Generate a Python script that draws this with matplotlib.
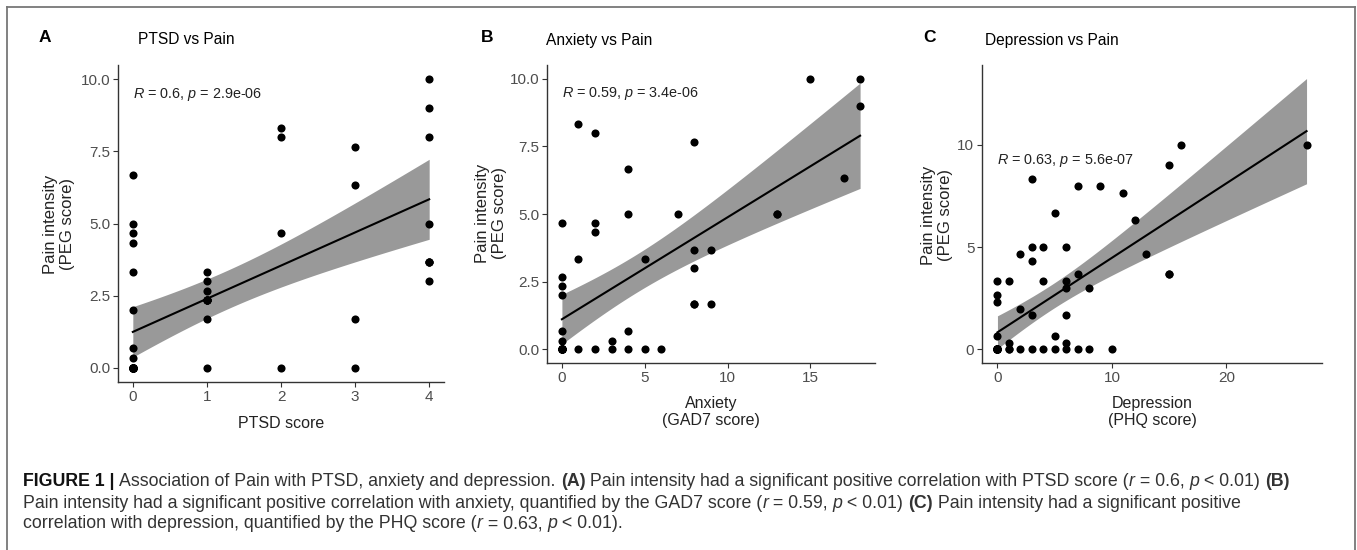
import numpy as np
import matplotlib
matplotlib.use("Agg")
import matplotlib.pyplot as plt
from matplotlib import font_manager
from matplotlib.lines import Line2D

# ------------------------------------------------------------------ data
# Panel A: PTSD score vs pain (visible points)
ptsd_x = [0, 0, 0, 0, 0, 0, 0, 0, 0,
          1, 1, 1, 1, 1, 1,
          2, 2, 2, 2,
          3, 3, 3, 3,
          4, 4, 4, 4, 4, 4]
ptsd_y = [6.67, 5.0, 4.67, 4.33, 3.33, 2.0, 0.67, 0.33, 0.0,
          3.33, 3.0, 2.67, 2.33, 1.67, 0.0,
          8.33, 8.0, 4.67, 0.0,
          7.67, 6.33, 1.67, 0.0,
          10.0, 9.0, 8.0, 5.0, 3.67, 3.0]
# overlapping (hidden) observations
ptsd_dup_x = [0] * 14 + [1] * 4 + [4] * 2
ptsd_dup_y = [0.0] * 14 + [2.33] * 4 + [3.67] * 2

# Panel B: anxiety (GAD7) vs pain
anx_x = [0, 0, 0, 0, 0, 0, 0, 1, 1, 1, 2, 2, 2, 2, 3, 3, 4, 4, 4, 4, 5, 5, 6, 7,
         8, 8, 8, 8, 9, 9, 13, 15, 17, 18, 18]
anx_y = [4.67, 2.67, 2.33, 2.0, 0.67, 0.33, 0.0, 8.33, 3.33, 0.0, 8.0, 4.67, 4.33, 0.0,
         0.33, 0.0, 6.67, 5.0, 0.67, 0.0, 3.33, 0.0, 0.0, 5.0,
         7.67, 3.67, 3.0, 1.67, 3.67, 1.67, 5.0, 10.0, 6.33, 10.0, 9.0]
anx_dup_x = [0] * 10 + [8, 13]
anx_dup_y = [0.0] * 10 + [1.67, 5.0]

# Panel C: depression (PHQ) vs pain
dep_x = [0, 0, 0, 0, 0, 1, 1, 1, 2, 2, 2, 3, 3, 3, 3, 3, 4, 4, 4, 5, 5, 5,
         6, 6, 6, 6, 6, 6, 7, 7, 7, 8, 8, 9, 10, 11, 12, 13, 15, 15, 16, 27]
dep_y = [3.33, 2.67, 2.33, 0.67, 0.0, 3.33, 0.33, 0.0, 4.67, 2.0, 0.0,
         8.33, 5.0, 4.33, 1.67, 0.0, 5.0, 3.33, 0.0, 6.67, 0.67, 0.0,
         5.0, 3.33, 3.0, 1.67, 0.33, 0.0, 8.0, 3.67, 0.0, 3.0, 0.0, 8.0, 0.0,
         7.67, 6.33, 4.67, 9.0, 3.67, 10.0, 10.0]
dep_dup_x = [0] * 13 + [1, 15]
dep_dup_y = [0.0] * 13 + [0.0, 3.67]

panel_letters = ["A", "B", "C"]
titles = ["PTSD vs Pain", "Anxiety vs Pain", "Depression vs Pain"]
xlabels = ["PTSD score", "Anxiety\n(GAD7 score)", "Depression\n(PHQ score)"]
ylabel = "Pain intensity\n(PEG score)"
cor_labels = [("0.6", "2.9e-06"), ("0.59", "3.4e-06"), ("0.63", "5.6e-07")]
xticks_list = [[0, 1, 2, 3, 4], [0, 5, 10, 15], [0, 10, 20]]
yticks_list = [[0, 2.5, 5, 7.5, 10], [0, 2.5, 5, 7.5, 10], [0, 5, 10]]

# ------------------------------------------------------------------ fonts
names = {f.name for f in font_manager.fontManager.ttflist}
FONT = "Liberation Sans" if "Liberation Sans" in names else "DejaVu Sans"
plt.rcParams["font.family"] = [FONT, "DejaVu Sans"]
plt.rcParams["mathtext.fontset"] = "custom"
plt.rcParams["mathtext.rm"] = FONT
plt.rcParams["mathtext.it"] = FONT + ":italic"
plt.rcParams["mathtext.bf"] = FONT + ":bold"

W, H = 1357, 550
fig = plt.figure(figsize=(W / 100, H / 100), dpi=100)
fig.patch.set_facecolor("white")


def t975(df):
    z = 1.959964
    g1 = (z ** 3 + z) / 4
    g2 = (5 * z ** 5 + 16 * z ** 3 + 3 * z) / 96
    g3 = (3 * z ** 7 + 19 * z ** 5 + 17 * z ** 3 - 15 * z) / 384
    return z + g1 / df + g2 / df ** 2 + g3 / df ** 3


def fit_band(x, y, n_grid=80):
    x = np.asarray(x, float)
    y = np.asarray(y, float)
    n = len(x)
    xm = x.mean()
    sxx = ((x - xm) ** 2).sum()
    b = ((x - xm) * (y - y.mean())).sum() / sxx
    a = y.mean() - b * xm
    s = np.sqrt(((y - (a + b * x)) ** 2).sum() / (n - 2))
    g = np.linspace(x.min(), x.max(), n_grid)
    se = s * np.sqrt(1 / n + (g - xm) ** 2 / sxx)
    t = t975(n - 2)
    fit = a + b * g
    return g, fit, fit - t * se, fit + t * se


def px_axes(l, t, r, b):
    return [l / W, 1 - b / H, (r - l) / W, (b - t) / H]


panels = [
    (ptsd_x, ptsd_y, ptsd_dup_x, ptsd_dup_y, px_axes(118, 65, 444, 382)),
    (anx_x, anx_y, anx_dup_x, anx_dup_y, px_axes(547, 65, 875, 363)),
    (dep_x, dep_y, dep_dup_x, dep_dup_y, px_axes(982, 65, 1322, 363)),
]

axis_col = "#333333"
tick_col = "#4d4d4d"

axes = []
for i, (vx, vy, dx, dy, rect) in enumerate(panels):
    ax = fig.add_axes(rect)
    axes.append(ax)
    allx = np.array(list(vx) + list(dx), float)
    ally = np.array(list(vy) + list(dy), float)
    g, fit, lo, hi = fit_band(allx, ally)
    ax.fill_between(g, lo, hi, color="#999999", lw=0, zorder=1)
    ax.plot(g, fit, color="black", lw=1.5, zorder=2)
    ax.scatter(allx, ally, s=34, color="black", lw=0, zorder=3)
    # ggplot-like limits (5% expansion incl. ribbon)
    xmin, xmax = allx.min(), allx.max()
    ymin = min(ally.min(), lo.min())
    ymax = max(ally.max(), hi.max())
    ex, ey = 0.05 * (xmax - xmin), 0.05 * (ymax - ymin)
    ax.set_xlim(xmin - ex, xmax + ex)
    ax.set_ylim(ymin - ey, ymax + ey)
    ax.set_xticks(xticks_list[i])
    ax.set_yticks(yticks_list[i])
    if i < 2:
        ax.set_yticklabels([f"{v:.1f}" for v in yticks_list[i]])
    else:
        ax.set_yticklabels([f"{v:g}" for v in yticks_list[i]])
    for side in ("top", "right"):
        ax.spines[side].set_visible(False)
    for side in ("left", "bottom"):
        ax.spines[side].set_color(axis_col)
        ax.spines[side].set_linewidth(1.0)
    ax.tick_params(axis="both", direction="out", length=3.5, width=0.8,
                   color=axis_col, labelcolor=tick_col, labelsize=11, pad=2)
    r, p = cor_labels[i]
    ax.text(0, [9.48, 9.45, 9.23][i], rf"$\it{{R}}$ = {r}, $\it{{p}}$ = {p}",
            fontsize=10.4, color="#222222", ha="left", va="center")


def ftext(x, y, s, **kw):
    return fig.text(x / W, 1 - y / H, s, **kw)


# panel letters and titles
for (lx, tx), letter, title in zip([(45, 138), (487, 546), (930, 985)], panel_letters, titles):
    ftext(lx, 38, letter, fontsize=12.5, fontweight="bold", ha="center", va="center", color="black")
    ftext(tx, 40, title, fontsize=11.2, ha="left", va="center", color="black")

# axis labels
lab_col = "#222222"
ftext(281, 423, xlabels[0], fontsize=11.5, ha="center", va="center", color=lab_col)
ftext(711, 412, xlabels[1], fontsize=11.5, ha="center", va="center", color=lab_col,
      multialignment="center", linespacing=1.2)
ftext(1152, 412, xlabels[2], fontsize=11.5, ha="center", va="center", color=lab_col,
      multialignment="center", linespacing=1.2)
for (cx, cy) in [(59, 224), (491, 213), (937, 215)]:
    ftext(cx, cy, ylabel, fontsize=12, ha="center", va="center", rotation=90,
          color=lab_col, multialignment="center", linespacing=1.12)

# frame
fr_col = "#777777"
for (x0, y0, x1, y1) in [(7, 7, 1355, 7), (7, 7, 7, 550), (1355, 7, 1355, 550)]:
    fig.add_artist(Line2D([x0 / W, x1 / W], [1 - y0 / H, 1 - y1 / H],
                          color=fr_col, lw=1.3, transform=fig.transFigure))

# caption
renderer = fig.canvas.get_renderer()
N, B, I = ("normal", "normal"), ("bold", "normal"), ("normal", "italic")
cap_lines = [
    [("FIGURE 1 | ", B), ("Association of Pain with PTSD, anxiety and depression. ", N), ("(A)", B),
     (" Pain intensity had a significant positive correlation with PTSD score (", N), ("r", I),
     (" = 0.6, ", N), ("p", I), (" < 0.01) ", N), ("(B)", B)],
    [("Pain intensity had a significant positive correlation with anxiety, quantified by the GAD7 score (", N),
     ("r", I), (" = 0.59, ", N), ("p", I), (" < 0.01) ", N), ("(C)", B),
     (" Pain intensity had a significant positive", N)],
    [("correlation with depression, quantified by the PHQ score (", N), ("r", I),
     (" = 0.63, ", N), ("p", I), (" < 0.01).", N)],
]


def seg_width(text, size, weight, style):
    t1 = fig.text(0, 0, text + "|", fontsize=size, fontweight=weight, fontstyle=style)
    t2 = fig.text(0, 0, "|", fontsize=size, fontweight=weight, fontstyle=style)
    w = t1.get_window_extent(renderer).width - t2.get_window_extent(renderer).width
    t1.remove()
    t2.remove()
    return w


def line_width(segs, size):
    return sum(seg_width(s, size, w, st) for s, (w, st) in segs)


base = 12.0
cap_size = base * (1291 - 23) / line_width(cap_lines[0], base)
for segs, yc in zip(cap_lines, [481, 503, 524]):
    x = 23.0
    for s, (w, st) in segs:
        col = "#111111" if (w == "bold" and s.startswith("FIGURE")) else "#333333"
        ftext(x, yc, s, fontsize=cap_size, fontweight=w, fontstyle=st,
              ha="left", va="center", color=col)
        x += seg_width(s, cap_size, w, st)

fig.savefig("out.png", dpi=100, facecolor="white")
